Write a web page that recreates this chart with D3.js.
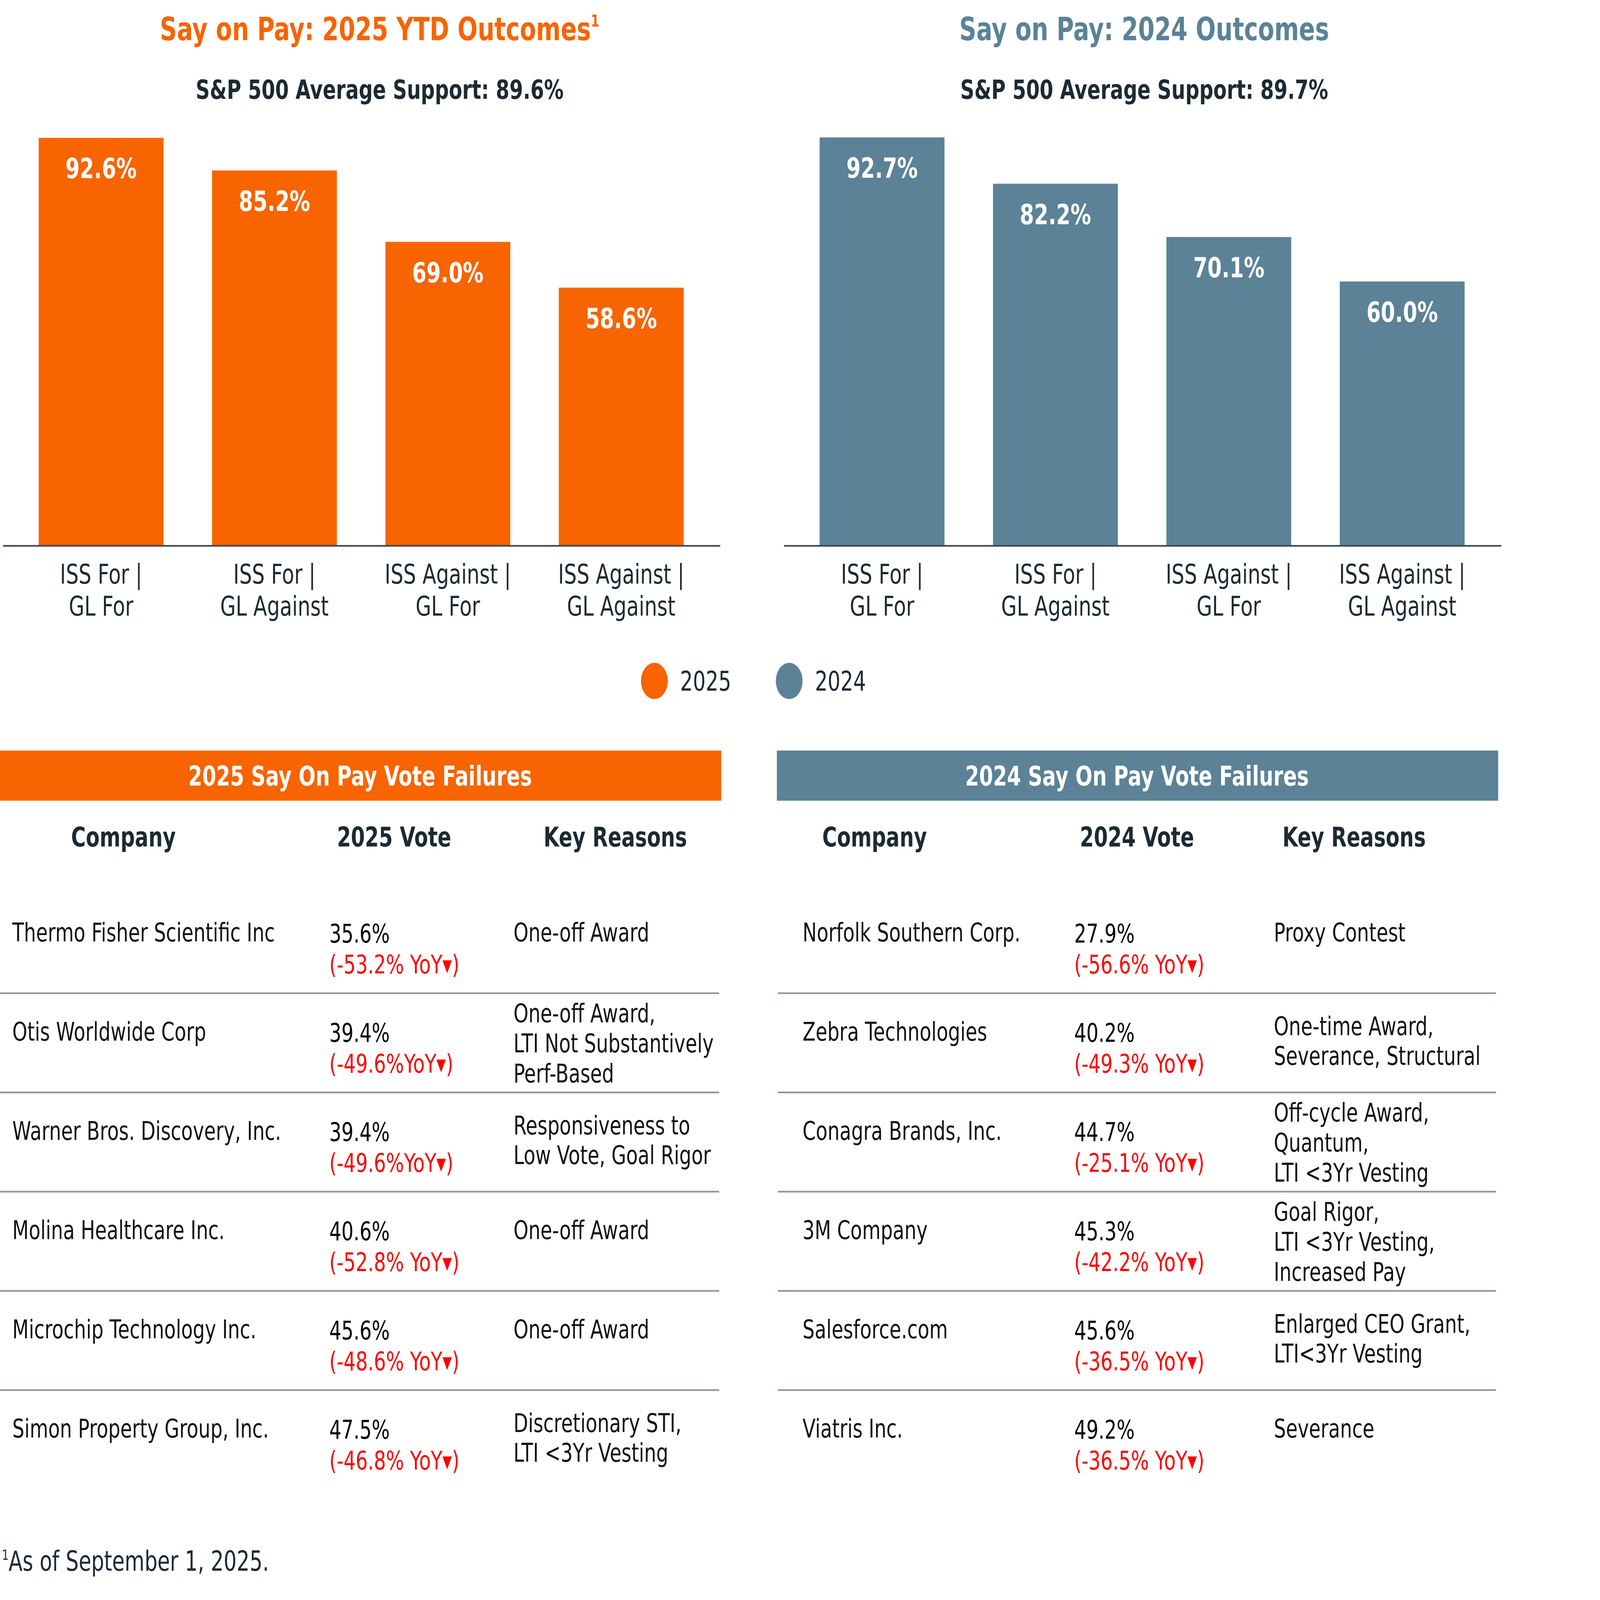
<!DOCTYPE html>
<html>
<head>
<meta charset="utf-8">
<script src="https://cdn.jsdelivr.net/npm/d3@7"></script>
<style>
  html, body { margin: 0; padding: 0; background: #fff; overflow: hidden; }
  svg { display: block; width: 100vw; height: 100vh; }
  text { font-family: "DejaVu Sans", sans-serif; }
</style>
</head>
<body>
<div id="chart"></div>
<script>
// chart data
var categories = [["ISS For |", "GL For"], ["ISS For |", "GL Against"],
                  ["ISS Against |", "GL For"], ["ISS Against |", "GL Against"]];
var values2025 = [92.6, 85.2, 69.0, 58.6];
var values2024 = [92.7, 82.2, 70.1, 60.0];
var avgSupport = {"2025": "89.6%", "2024": "89.7%"};
var legendYears = ["2025", "2024"];

// table data
var companies2025 = ["Thermo Fisher Scientific Inc", "Otis Worldwide Corp", "Warner Bros. Discovery, Inc.",
                     "Molina Healthcare Inc.", "Microchip Technology Inc.", "Simon Property Group, Inc."];
var votes2025 = ["35.6%", "39.4%", "39.4%", "40.6%", "45.6%", "47.5%"];
var yoy2025 = ["(-53.2% YoY▾)", "(-49.6%YoY▾)", "(-49.6%YoY▾)", "(-52.8% YoY▾)", "(-48.6% YoY▾)", "(-46.8% YoY▾)"];
var reasons2025 = [["One-off Award"], ["One-off Award,", "LTI Not Substantively", "Perf-Based"],
                   ["Responsiveness to", "Low Vote, Goal Rigor"], ["One-off Award"], ["One-off Award"],
                   ["Discretionary STI,", "LTI <3Yr Vesting"]];

var companies2024 = ["Norfolk Southern Corp.", "Zebra Technologies", "Conagra Brands, Inc.",
                     "3M Company", "Salesforce.com", "Viatris Inc."];
var votes2024 = ["27.9%", "40.2%", "44.7%", "45.3%", "45.6%", "49.2%"];
var yoy2024 = ["(-56.6% YoY▾)", "(-49.3% YoY▾)", "(-25.1% YoY▾)", "(-42.2% YoY▾)", "(-36.5% YoY▾)", "(-36.5% YoY▾)"];
var reasons2024 = [["Proxy Contest"], ["One-time Award,", "Severance, Structural"],
                   ["Off-cycle Award,", "Quantum,", "LTI <3Yr Vesting"],
                   ["Goal Rigor,", "LTI <3Yr Vesting,", "Increased Pay"],
                   ["Enlarged CEO Grant,", "LTI<3Yr Vesting"], ["Severance"]];

var ORANGE = "#f76400", BLUE = "#5b8296", DARK = "#1b2a33", RED = "#ff0000";

// layout is drawn in a 1555 x 1149 box and stretched to the window
var W = 1555, H = 1149;
var svg = d3.select("#chart").append("svg")
    .attr("viewBox", "0 0 " + W + " " + H)
    .attr("preserveAspectRatio", "none");

var y = d3.scaleLinear().domain([0, 100]).range([392, 75.6]);

function barChart(x0, values, color, title, year, sup, cx) {
  var g = svg.append("g");
  var x = d3.scaleBand().domain(d3.range(values.length))
      .range([x0 + 14, x0 + 688]).paddingInner(0.28).paddingOuter(0.14);

  var t = g.append("text").attr("x", cx).attr("y", 29).attr("text-anchor", "middle")
      .attr("font-size", 23).attr("font-weight", 700).attr("fill", color).text(title);
  if (sup) t.append("tspan").attr("font-size", 12).attr("dy", -10).text("1");

  g.append("text").attr("x", cx).attr("y", 71).attr("text-anchor", "middle")
      .attr("font-size", 19).attr("font-weight", 700).attr("fill", DARK)
      .text("S&P 500 Average Support: " + avgSupport[year]);

  g.selectAll("rect").data(values).enter().append("rect")
      .attr("x", (d, i) => x(i)).attr("width", x.bandwidth())
      .attr("y", d => y(d)).attr("height", d => y(0) - y(d))
      .attr("fill", color);

  g.selectAll(".val").data(values).enter().append("text")
      .attr("x", (d, i) => x(i) + x.bandwidth() / 2).attr("y", d => y(d) + 29)
      .attr("text-anchor", "middle").attr("font-size", 20).attr("font-weight", 700)
      .attr("fill", "#fff").text(d => d.toFixed(1) + "%");

  var axis = g.append("g").attr("transform", "translate(0," + y(0) + ")")
      .call(d3.axisBottom(x).tickSize(0).tickFormat(""));
  axis.select(".domain").attr("stroke", "#3b4a52").attr("stroke-width", 1.2)
      .attr("d", "M" + (x0 + 3) + ",0H" + (x0 + 700));

  var lab = g.selectAll(".cat").data(categories).enter().append("text")
      .attr("x", (d, i) => x(i) + x.bandwidth() / 2)
      .attr("text-anchor", "middle").attr("font-size", 19.5).attr("fill", DARK);
  lab.selectAll("tspan").data(d => d).enter().append("tspan")
      .attr("x", function () { return d3.select(this.parentNode).attr("x"); })
      .attr("y", (d, j) => 419 + j * 23).text(d => d);
}

barChart(0, values2025, ORANGE, "Say on Pay: 2025 YTD Outcomes", "2025", true, 369);
barChart(759, values2024, BLUE, "Say on Pay: 2024 Outcomes", "2024", false, 1112);

// legend
var legColor = d3.scaleOrdinal().domain(legendYears).range([ORANGE, BLUE]);
var legX = d3.scalePoint().domain(legendYears).range([636, 767]);
var leg = svg.append("g").selectAll("g").data(legendYears).enter().append("g")
    .attr("transform", d => "translate(" + legX(d) + ",489)");
leg.append("circle").attr("r", 13).attr("fill", d => legColor(d));
leg.append("text").attr("x", 25).attr("y", 7).attr("font-size", 19.5).attr("fill", DARK).text(d => d);

// tables
var rowY = d3.scaleLinear().domain([0, 6]).range([642, 1069.5]);
var lineGap = 21.5;

function table(x0, color, year, companies, votes, yoy, reasons) {
  var g = svg.append("g");
  g.append("rect").attr("x", x0).attr("y", 539).attr("width", 701).attr("height", 36).attr("fill", color);
  g.append("text").attr("x", x0 + 350).attr("y", 564).attr("text-anchor", "middle")
      .attr("font-size", 19.5).attr("font-weight", 700).attr("fill", "#fff")
      .text(year + " Say On Pay Vote Failures");

  var colX = x0 === 0 ? [12, 320, 499] : [780, 1044, 1238];
  var headX = x0 === 0 ? [120, 383, 598] : [850, 1105, 1316];
  var heads = ["Company", year + " Vote", "Key Reasons"];
  g.selectAll(".head").data(heads).enter().append("text")
      .attr("x", (d, i) => headX[i]).attr("y", 608).attr("text-anchor", "middle")
      .attr("font-size", 19.5).attr("font-weight", 700).attr("fill", DARK).text(d => d);

  var rows = g.selectAll(".row").data(companies).enter().append("g")
      .attr("transform", (d, i) => "translate(0," + rowY(i) + ")");

  rows.filter((d, i) => i > 0).append("line")
      .attr("x1", x0 + (x0 === 0 ? 0 : 1)).attr("x2", x0 + 699)
      .attr("stroke", "#8c969b").attr("stroke-width", 1.2);

  rows.append("text").attr("x", colX[0]).attr("y", 34)
      .attr("font-size", 18.5).attr("fill", "#111").text(d => d);
  rows.append("text").attr("x", colX[1]).attr("y", 35)
      .attr("font-size", 18.5).attr("fill", "#000").text((d, i) => votes[i]);
  rows.append("text").attr("x", colX[1]).attr("y", 57)
      .attr("font-size", 18.5).attr("fill", RED).text((d, i) => yoy[i]);

  rows.each(function (d, i) {
    var lines = reasons[i];
    var start = lines.length === 1 ? 34 : (lines.length === 2 ? 30 : 21);
    var row = d3.select(this);
    row.selectAll(".reason").data(lines).enter().append("text")
      .attr("x", colX[2]).attr("y", (l, j) => start + j * lineGap)
      .attr("font-size", 18.5).attr("fill", "#111").text(l => l);
  });
}

table(0, ORANGE, "2025", companies2025, votes2025, yoy2025, reasons2025);
table(755, BLUE, "2024", companies2024, votes2024, yoy2024, reasons2024);

// footnote
var fn = svg.append("text").attr("x", 2).attr("y", 1128).attr("font-size", 19.8).attr("fill", DARK);
fn.append("tspan").attr("font-size", 10).attr("dy", -8).text("1");
fn.append("tspan").attr("dy", 8).text("As of September 1, 2025.");
</script>
</body>
</html>
